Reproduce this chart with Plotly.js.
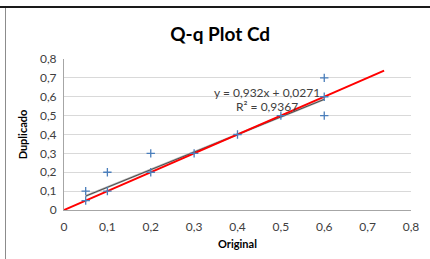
<!DOCTYPE html>
<html><head><meta charset="utf-8">
<script src="https://cdn.plot.ly/plotly-3.0.1.min.js"></script>
<style>html,body{margin:0;padding:0;background:#fff}#chart{width:430px;height:259px}</style>
</head><body><div id="chart"></div>
<script>
const original  = [0.05, 0.05, 0.1, 0.1, 0.2, 0.2, 0.3, 0.4, 0.5, 0.6, 0.6, 0.6];
const duplicado = [0.1, 0.05, 0.2, 0.1, 0.3, 0.2, 0.3, 0.4, 0.5, 0.7, 0.6, 0.5];
const refLineX = [0, 0.738];
const refLineY = [0, 0.738];
const trendSlope = 0.932;
const trendIntercept = 0.0271;
const trendRange = [0.05, 0.6];
const xTicks = [0, 0.1, 0.2, 0.3, 0.4, 0.5, 0.6, 0.7, 0.8];
const yTicks = [0, 0.1, 0.2, 0.3, 0.4, 0.5, 0.6, 0.7, 0.8];

const trendY = trendRange.map(x => trendSlope * x + trendIntercept);
const font = 'Lato, "Open Sans", "Liberation Sans", sans-serif';
const fmt = v => v === 0 ? '0' : v.toFixed(1).replace('.', ',');

const traces = [
  {x: trendRange, y: trendY, mode: 'lines', line: {color: '#b0b0b0', width: 2.2}, hoverinfo: 'skip', showlegend: false},
  {x: trendRange, y: trendY, mode: 'lines', line: {color: '#333333', width: 0.8}, hoverinfo: 'skip', showlegend: false},
  {x: refLineX, y: refLineY, mode: 'lines', line: {color: '#ff0000', width: 2}, showlegend: false},
  {x: original, y: duplicado, mode: 'markers', marker: {symbol: 'cross-thin-open', size: 6, line: {color: '#4a7ebb', width: 1.3}, color: '#4a7ebb'}, showlegend: false}
];

const layout = {
  width: 430, height: 259,
  margin: {l: 64, r: 19, t: 59, b: 49},
  paper_bgcolor: '#ffffff', plot_bgcolor: '#ffffff',
  separators: ', ',
  font: {family: font, size: 12, color: '#404040'},
  title: {text: '<b>Q-q Plot Cd</b>', font: {family: font, size: 19, color: '#000'}, x: 0.512, xanchor: 'center', y: 1 - 34/259, yanchor: 'middle', yref: 'container'},
  xaxis: {range: [0, 0.8], tickvals: xTicks, ticktext: xTicks.map(fmt),
          showgrid: false, zeroline: false, showline: true, linecolor: '#a6a6a6', linewidth: 1,
          ticks: '', ticklabelstandoff: 6, tickfont: {size: 12, color: '#404040'},
          title: {text: '<b>Original</b>', font: {size: 11, color: '#000'}, standoff: 6}},
  yaxis: {range: [0, 0.8], tickvals: yTicks, ticktext: yTicks.map(fmt),
          showgrid: true, gridcolor: '#d9d9d9', gridwidth: 1, zeroline: false, showline: true, linecolor: '#a6a6a6', linewidth: 1,
          ticks: '', ticklabelstandoff: 4, tickfont: {size: 12, color: '#404040'},
          title: {text: '<b>Duplicado</b>', font: {size: 11, color: '#000'}, standoff: 10}},
  annotations: [
    {x: 0.468, y: 0.62, xref: 'x', yref: 'y', showarrow: false, text: 'y = 0,932x + 0,0271', font: {size: 12, color: '#404040'}},
    {x: 0.468, y: 0.547, xref: 'x', yref: 'y', showarrow: false, text: 'R² = 0,9367', font: {size: 12, color: '#404040'}}
  ],
  shapes: [
    {type: 'line', xref: 'paper', yref: 'paper', x0: (0 - 64)/347, x1: (430 - 64)/347, y0: (210 - 7)/151, y1: (210 - 7)/151, line: {color: '#1a1a1a', width: 2}},
    {type: 'line', xref: 'paper', yref: 'paper', x0: (5.5 - 64)/347, x1: (5.5 - 64)/347, y0: (210 - 259)/151, y1: (210 - 8)/151, line: {color: '#8c8c8c', width: 1}}
  ]
};

Plotly.newPlot('chart', traces, layout, {displayModeBar: false, staticPlot: true});
</script></body></html>
